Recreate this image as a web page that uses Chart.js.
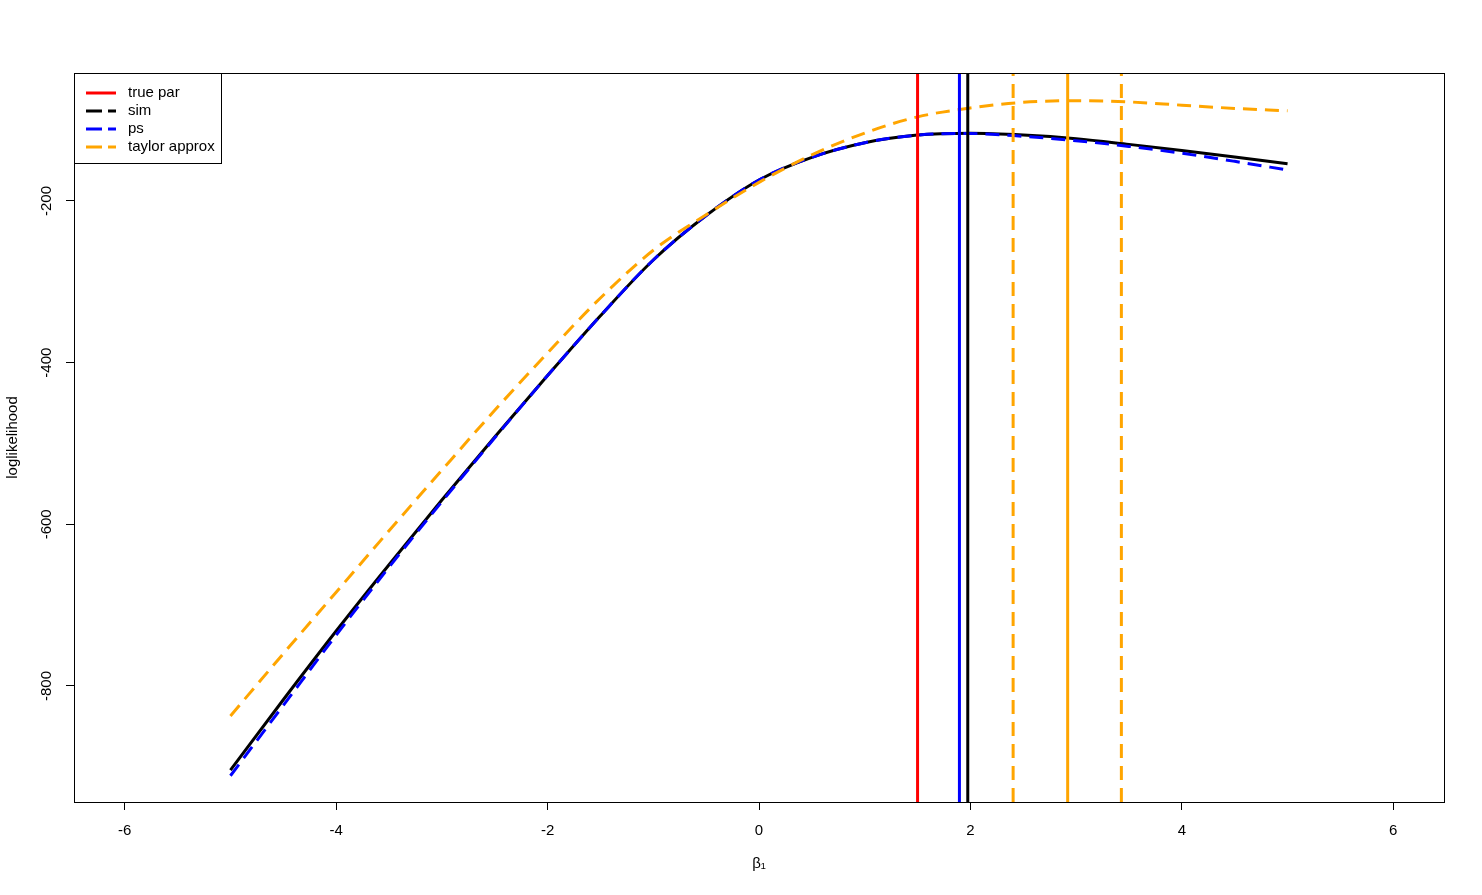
<!DOCTYPE html>
<html>
<head>
<meta charset="utf-8">
<script src="https://cdn.jsdelivr.net/npm/chart.js@4"></script>
<style>
  html, body { margin: 0; padding: 0; background: #fff; }
  #wrap { width: 1482px; height: 895px; }
</style>
</head>
<body>
<div id="wrap"><canvas id="llChart" width="1482" height="895"></canvas></div>
<script>
// beta_1 grid and the three loglikelihood curves
const betaGrid = [-5, -4.5, -4, -3.5, -3, -2.5, -2, -1.5, -1, -0.5, 0, 0.5, 1, 1.5, 2, 2.5, 3, 3.5, 4, 4.5, 5];
const simLL = [-904, -817, -732, -650, -570, -492, -416, -342, -273, -218, -174, -146, -128, -118.5, -116.3, -118.5, -123, -130, -137.5, -145.5, -154];
const psLL = [-911, -824, -737, -653, -572, -493, -416, -342, -273, -218, -174, -146, -128, -118.5, -116.6, -120, -125.5, -132.5, -141, -151, -161.7];
const taylorLL = [-837, -760, -684, -608, -533, -459, -388, -320, -261, -217, -177, -143, -116, -96, -85, -78, -76, -77.5, -81.5, -85.5, -88.5];

// vertical reference lines
const trueBeta = 1.5;
const psMax = 1.896;
const simMax = 1.975;
const taylorMax = 2.92;
const taylorCI = [2.404, 3.428];

const xTicks = [-6, -4, -2, 0, 2, 4, 6];
const yTicks = [-800, -600, -400, -200];
const xRange = [-6.48, 6.48];
const yRange = [-943.5, -41.7];

const legendLabels = ['true par', 'sim', 'ps', 'taylor approx'];
const legendColors = ['#FF0000', '#000000', '#0000FF', '#FFA500'];
const legendDashed = [false, true, true, true];

const FONT = "'Liberation Sans', Arial, Helvetica, sans-serif";
Chart.defaults.font.family = FONT;
Chart.defaults.font.size = 15;
Chart.defaults.color = '#000';

function toPoints(xs, ys) {
  return xs.map((x, i) => ({ x: x, y: ys[i] }));
}

function vline(x, color, dashed) {
  return {
    data: [{ x: x, y: yRange[0] }, { x: x, y: yRange[1] }],
    borderColor: color,
    borderWidth: 3,
    borderDash: dashed ? [14, 8] : [],
    pointRadius: 0,
    showLine: true,
    order: 0
  };
}

function curve(ys, color, dashed, order) {
  return {
    data: toPoints(betaGrid, ys),
    borderColor: color,
    borderWidth: 3,
    borderDash: dashed ? [14, 8] : [],
    pointRadius: 0,
    showLine: true,
    cubicInterpolationMode: 'monotone',
    order: order
  };
}

const frame = {
  id: 'frame',
  afterDraw(chart) {
    const ctx = chart.ctx;
    const a = chart.chartArea;
    ctx.save();
    ctx.strokeStyle = '#000';
    ctx.lineWidth = 1;
    ctx.strokeRect(Math.round(a.left) + 0.5, Math.round(a.top) + 0.5,
      Math.round(a.right - a.left), Math.round(a.bottom - a.top));

    // rotated y tick labels, R style
    const ys = chart.scales.y;
    ctx.font = '15px ' + FONT;
    ctx.fillStyle = '#000';
    ctx.textAlign = 'center';
    ctx.textBaseline = 'middle';
    ys.ticks.forEach(t => {
      ctx.save();
      ctx.translate(47, ys.getPixelForValue(t.value));
      ctx.rotate(-Math.PI / 2);
      ctx.fillText(String(t.value), 0, 0);
      ctx.restore();
    });

    // legend box in the top-left corner
    const lx = a.left, ly = a.top;
    ctx.fillStyle = '#fff';
    ctx.fillRect(lx + 0.5, ly + 0.5, 147, 90);
    ctx.strokeRect(lx + 0.5, ly + 0.5, 147, 90);
    legendLabels.forEach((lab, i) => {
      const yy = ly + 20 + i * 18;
      ctx.beginPath();
      ctx.strokeStyle = legendColors[i];
      ctx.lineWidth = 3;
      ctx.setLineDash(legendDashed[i] ? [16, 6] : []);
      ctx.moveTo(lx + 12, yy);
      ctx.lineTo(lx + 42, yy);
      ctx.stroke();
      ctx.setLineDash([]);
      ctx.fillStyle = '#000';
      ctx.textAlign = 'left';
      ctx.fillText(lab, lx + 54, yy);
    });
    ctx.restore();
  }
};

new Chart(document.getElementById('llChart'), {
  type: 'scatter',
  data: {
    datasets: [
      vline(trueBeta, '#FF0000', false),
      vline(psMax, '#0000FF', false),
      vline(simMax, '#000000', false),
      vline(taylorCI[0], '#FFA500', true),
      vline(taylorMax, '#FFA500', false),
      vline(taylorCI[1], '#FFA500', true),
      curve(taylorLL, '#FFA500', true, 1),
      curve(psLL, '#0000FF', true, 2),
      curve(simLL, '#000000', false, 3)
    ]
  },
  options: {
    responsive: false,
    animation: false,
    layout: { padding: { top: 73, right: 38, left: 0, bottom: 0 } },
    plugins: {
      legend: { display: false },
      tooltip: { enabled: false }
    },
    scales: {
      x: {
        type: 'linear',
        min: xRange[0],
        max: xRange[1],
        afterBuildTicks: s => { s.ticks = xTicks.map(v => ({ value: v })); },
        afterFit: s => { s.height = 93; },
        grid: { drawOnChartArea: false, drawTicks: true, tickLength: 8, color: '#000' },
        border: { display: false },
        ticks: { padding: 12, color: '#000', font: { size: 15 }, maxRotation: 0 },
        title: { display: true, text: 'β\u2081', color: '#000', font: { size: 15 }, padding: { top: 0, bottom: 22 } }
      },
      y: {
        type: 'linear',
        min: yRange[0],
        max: yRange[1],
        afterBuildTicks: s => { s.ticks = yTicks.map(v => ({ value: v })); },
        afterFit: s => { s.width = 74; },
        grid: { drawOnChartArea: false, drawTicks: true, tickLength: 8, color: '#000' },
        border: { display: false },
        ticks: { display: false },
        title: { display: true, text: 'loglikelihood', color: '#000', font: { size: 15 }, padding: { top: 4, bottom: 0 } }
      }
    }
  },
  plugins: [frame]
});
</script>
</body>
</html>
